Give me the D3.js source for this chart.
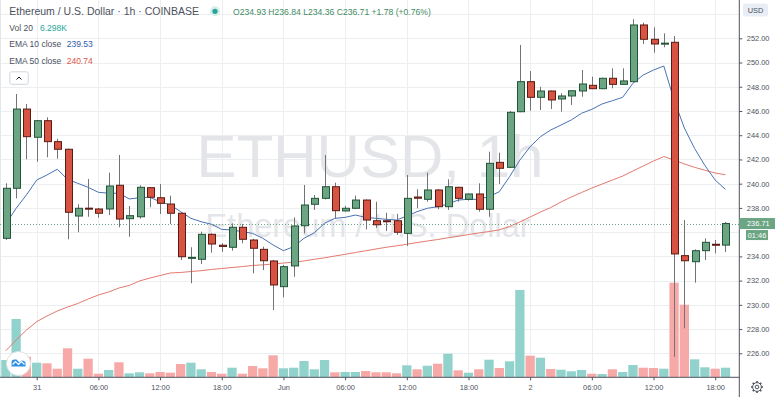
<!DOCTYPE html>
<html>
<head>
<meta charset="utf-8">
<script src="https://cdn.jsdelivr.net/npm/d3@7"></script>
<style>
  body { margin: 0; background: #fff; }
  svg { display: block; font-family: "Liberation Sans", Arial, sans-serif; }
</style>
</head>
<body>
<div id="chart"></div>
<script>
// hourly bars, index -3 = 30 May 21:00 ... 67 = 2 Jun 19:00
const firstBar = -3;
const opens  = [235.49,239.62,246.16,243.83,245.20,243.47,242.84,237.33,237.98,237.91,237.91,239.87,237.11,237.27,239.67,238.84,238.32,237.56,233.85,233.76,235.82,234.92,234.75,236.40,235.35,234.58,233.62,231.50,233.21,236.53,238.30,238.79,239.75,237.75,237.97,238.65,236.94,236.94,236.94,235.90,238.90,238.71,239.48,238.10,239.70,238.71,239.15,237.89,241.76,241.35,245.94,248.42,247.13,247.65,246.99,247.24,247.65,248.12,247.84,248.70,248.20,248.42,253.10,251.92,251.55,251.67,234.06,233.56,234.47,235.00,234.93];
const highs  = [240.03,247.40,246.58,245.25,245.48,243.71,242.90,238.30,240.39,238.00,240.91,242.37,238.16,239.87,239.72,239.97,239.01,237.60,234.75,236.04,235.90,235.08,236.73,236.67,235.45,234.80,233.70,233.29,237.22,239.89,239.07,242.37,240.08,238.16,239.01,238.70,238.51,237.60,237.51,240.72,239.54,240.91,239.55,240.36,239.75,239.20,240.03,242.64,242.56,246.00,251.45,249.30,248.00,247.70,247.46,247.70,249.38,248.83,248.75,249.52,249.52,253.57,253.29,252.91,252.41,252.19,237.00,234.58,235.49,235.35,236.84];
const lows   = [235.35,238.79,242.01,241.81,242.18,242.06,235.41,235.99,237.27,237.19,237.41,236.40,235.62,237.11,238.05,237.50,236.67,233.70,231.78,233.37,234.30,234.38,234.47,235.08,232.60,232.87,229.57,230.62,232.32,235.90,237.83,238.70,237.14,237.70,237.90,236.23,236.35,236.09,235.77,234.86,237.97,238.51,237.89,237.83,238.51,238.60,237.69,237.27,239.97,241.30,245.90,246.02,246.08,246.16,245.94,246.49,247.18,247.80,247.80,247.87,248.15,248.40,251.53,250.81,251.26,225.71,228.06,231.83,233.70,234.25,234.36];
const closes = [239.62,246.16,243.88,245.20,243.47,242.84,237.64,237.97,237.93,237.56,239.81,237.08,237.36,239.70,238.88,238.38,237.56,233.97,233.92,235.82,235.02,234.82,236.40,235.41,234.67,233.64,231.64,233.15,236.51,238.24,238.79,239.75,237.77,237.97,238.65,237.00,236.61,236.90,235.99,238.79,238.80,239.48,238.10,239.75,238.79,239.15,237.89,241.68,241.27,245.89,248.42,247.13,247.65,246.91,247.24,247.67,248.23,247.84,248.70,248.20,248.48,253.10,251.92,251.53,251.60,234.20,233.64,234.47,235.16,234.93,236.71];
const volumes = [11.35,38.25,13.5,9.58,9.18,5.64,19.0,5.64,12.2,2.36,4.79,9.84,2.62,3.28,2.62,3.48,3.02,8.72,9.58,5.25,3.48,2.36,6.30,2.36,7.41,5.9,14.43,5.9,6.3,10.69,5.25,11.35,3.28,3.48,3.48,4.13,3.28,3.28,2.62,7.87,5.25,7.61,8.92,15.48,4.59,3.02,5.25,11.55,6.1,10.5,57.27,14.17,12.86,5.44,4.99,3.94,4.79,2.36,2.16,5.25,3.48,8.07,6.3,6.1,5.64,62.06,47.63,11.81,6.56,5.64,6.298];
const ema10 = [236.67,237.97,239.07,240.30,240.72,241.19,240.36,240.03,239.70,239.29,239.21,239.21,238.74,238.84,238.88,238.51,238.24,237.69,237.14,236.86,236.65,236.23,236.18,236.04,235.90,235.49,234.94,234.47,234.80,235.49,235.95,236.73,237.14,237.22,237.41,237.22,237.14,237.06,237.00,237.33,237.69,237.97,238.10,238.32,238.65,238.71,238.71,238.93,239.34,240.58,241.95,243.05,243.88,244.43,244.84,245.26,245.81,246.14,246.58,246.85,247.13,248.29,248.97,249.38,249.71,246.90,244.60,242.90,241.50,240.30,239.53];
const ema50 = [226.21,227.10,227.92,228.61,229.08,229.49,229.82,230.11,230.48,230.81,231.06,231.39,231.60,231.97,232.21,232.42,232.63,232.67,232.75,232.82,232.92,233.00,233.08,233.16,233.25,233.30,233.37,233.45,233.52,233.62,233.76,233.88,234.03,234.17,234.32,234.46,234.61,234.75,234.87,235.00,235.14,235.27,235.39,235.53,235.66,235.80,235.93,236.05,236.19,236.47,236.84,237.25,237.66,238.03,238.49,238.90,239.27,239.64,239.97,240.30,240.63,241.05,241.46,241.87,242.24,241.95,241.63,241.35,241.11,240.88,240.74];

const priceTicks = [226,228,230,232,234,236,238,240,242,244,246,248,250,252,254];
// 236 and 254 labels sit under the last-price and USD badges
const priceLabels = [226,228,230,232,234,238,240,242,244,246,248,250,252];
const timeTickLabels = ["31","06:00","12:00","18:00","Jun","06:00","12:00","18:00","2","06:00","12:00","18:00"];
const lastPrice = 236.71;

const W = 775, H = 397;
const plotRight = 739.3, axisY = 377.3;
const upFill = "#6ba583", upLine = "#225437", dnFill = "#d75442", dnLine = "#5b1a13";
const textCol = "#4c525e";

const t0 = new Date(2020, 4, 31, 0, 0);
const bars = opens.map((o, k) => ({
  t: d3.timeHour.offset(t0, firstBar + k),
  o, h: highs[k], l: lows[k], c: closes[k], v: volumes[k],
  e10: ema10[k], e50: ema50[k]
}));

const x = d3.scaleTime()
  .domain([t0, d3.timeHour.offset(t0, 66)])
  .range([36.7, 715.2]);
const step = x(d3.timeHour.offset(t0, 1)) - x(t0);
const y = d3.scaleLinear().domain([226, 252]).range([353.3, 38.3]);
const yVol = d3.scaleLinear().domain([0, d3.max(volumes)]).range([axisY, 282.7]);

const svg = d3.select("#chart").append("svg").attr("width", W).attr("height", H);

svg.append("defs").append("clipPath").attr("id", "plot")
  .append("rect").attr("x", 0).attr("y", 0).attr("width", plotRight).attr("height", axisY);
const plot = svg.append("g").attr("clip-path", "url(#plot)");

// grid
const tickTimes = timeTickLabels.map((_, k) => d3.timeHour.offset(t0, k * 6));
plot.append("g").selectAll("line").data(priceTicks).join("line")
  .attr("x1", 0).attr("x2", plotRight)
  .attr("y1", d => Math.round(y(d)) + 0.5).attr("y2", d => Math.round(y(d)) + 0.5)
  .attr("stroke", "#eceff2");
plot.append("g").selectAll("line").data(tickTimes).join("line")
  .attr("x1", d => Math.round(x(d)) + 0.5).attr("x2", d => Math.round(x(d)) + 0.5)
  .attr("y1", 0).attr("y2", axisY)
  .attr("stroke", "#eceff2");
plot.append("line").attr("x1", 0.5).attr("x2", 0.5).attr("y1", 0).attr("y2", axisY)
  .attr("stroke", "#e3e6ea");

// watermark
plot.append("text").attr("x", 370).attr("y", 177).attr("text-anchor", "middle")
  .attr("font-size", 60).attr("fill", "#e4e5e8").text("ETHUSD, 1h");
plot.append("text").attr("x", 368).attr("y", 237).attr("text-anchor", "middle")
  .attr("font-size", 32.5).attr("fill", "#e4e5e8").text("Ethereum / U.S. Dollar");

// volume
const vw = step - 1;
plot.append("g").selectAll("rect").data(bars).join("rect")
  .attr("x", d => x(d.t) - vw / 2).attr("width", vw)
  .attr("y", d => yVol(d.v)).attr("height", d => axisY - yVol(d.v))
  .attr("fill", d => d.c >= d.o ? "#92d2cc" : "#f7a9a7");

// EMAs
const lineGen = key => d3.line().x(d => x(d.t)).y(d => y(d[key]));
plot.append("path").datum(bars).attr("d", lineGen("e50"))
  .attr("fill", "none").attr("stroke", "#e3796d").attr("stroke-width", 1);
plot.append("path").datum(bars).attr("d", lineGen("e10"))
  .attr("fill", "none").attr("stroke", "#4a72b4").attr("stroke-width", 1);

// last price dotted line
plot.append("line").attr("x1", 0).attr("x2", plotRight)
  .attr("y1", Math.round(y(lastPrice)) + 0.5).attr("y2", Math.round(y(lastPrice)) + 0.5)
  .attr("stroke", upFill).attr("stroke-dasharray", "1,2");

// candles
const cg = plot.append("g").selectAll("g").data(bars).join("g");
cg.append("line")
  .attr("x1", d => Math.round(x(d.t)) + 0.5).attr("x2", d => Math.round(x(d.t)) + 0.5)
  .attr("y1", d => y(d.h)).attr("y2", d => y(d.l))
  .attr("stroke", "#737375");
const bw = 7;
cg.append("rect")
  .attr("x", d => Math.round(x(d.t)) - bw / 2 + 1)
  .attr("width", bw)
  .attr("y", d => y(Math.max(d.o, d.c)))
  .attr("height", d => Math.max(1, Math.abs(y(d.o) - y(d.c))))
  .attr("fill", d => d.c >= d.o ? upFill : dnFill)
  .attr("stroke", d => d.c >= d.o ? upLine : dnLine)
  .attr("stroke-width", 1);

// bottom-left logo
const logo = svg.append("g").attr("transform", "translate(18.5,363.5)");
logo.append("circle").attr("r", 12).attr("fill", "#fff").attr("stroke", "#dde1e6");
logo.append("path")
  .attr("d", "M-7,3 L-7,-1 Q-7,-4 -4,-4 L-2,-4 L1,-1 L3,-3 Q7,-3 7,0 L7,3 Z")
  .attr("fill", "#2e8fe6");
logo.append("path").attr("d", "M-6,1 L-3,-2 L0,1 L3,-2 L6,1")
  .attr("fill", "none").attr("stroke", "#fff").attr("stroke-width", 1.2);

// axes frame
svg.append("line").attr("x1", plotRight).attr("x2", plotRight).attr("y1", 0).attr("y2", H)
  .attr("stroke", "#50535e");
svg.append("line").attr("x1", 0).attr("x2", plotRight).attr("y1", axisY).attr("y2", axisY)
  .attr("stroke", "#50535e");

// price axis
const yAxis = d3.axisRight(y).tickValues(priceLabels).tickSize(3).tickFormat(d3.format(".2f"));
const yAxisG = svg.append("g").attr("transform", `translate(${plotRight},0)`).call(yAxis);
yAxisG.select(".domain").remove();
yAxisG.selectAll("line").attr("stroke", textCol);
yAxisG.selectAll("text").attr("x", 7.5).attr("fill", textCol)
  .attr("font-size", 7.4).attr("font-family", "Liberation Sans, Arial, sans-serif");

// time axis
const xAxis = d3.axisBottom(x).tickValues(tickTimes).tickSize(3)
  .tickFormat((d, k) => timeTickLabels[k]);
const xAxisG = svg.append("g").attr("transform", `translate(0,${axisY})`).call(xAxis);
xAxisG.select(".domain").remove();
xAxisG.selectAll("line").attr("stroke", textCol);
xAxisG.selectAll("text").attr("y", 7).attr("fill", textCol)
  .attr("font-size", 7.4).attr("font-family", "Liberation Sans, Arial, sans-serif");

// USD badge
svg.append("rect").attr("x", 743).attr("y", 3.5).attr("width", 25).attr("height", 13)
  .attr("rx", 2).attr("fill", "#e9edf5");
svg.append("text").attr("x", 755.5).attr("y", 13).attr("text-anchor", "middle")
  .attr("font-size", 7.4).attr("fill", textCol).text("USD");

// last price label + countdown
svg.append("rect").attr("x", plotRight).attr("y", y(lastPrice) - 5.5).attr("width", W - plotRight)
  .attr("height", 11).attr("fill", upFill);
svg.append("text").attr("x", 747).attr("y", y(lastPrice) + 2.7).attr("font-size", 7.4)
  .attr("fill", "#fff").text(lastPrice.toFixed(2));
svg.append("rect").attr("x", 746).attr("y", y(lastPrice) + 6.5).attr("width", 22)
  .attr("height", 10).attr("fill", upFill);
svg.append("text").attr("x", 757).attr("y", y(lastPrice) + 14.2).attr("text-anchor", "middle")
  .attr("font-size", 7.4).attr("fill", "#fff").text("01:46");

// gear
const gear = svg.append("g").attr("transform", "translate(757,387)")
  .attr("stroke", textCol).attr("fill", "none");
gear.selectAll("line").data(d3.range(8)).join("line")
  .attr("x1", 0).attr("y1", -4.5).attr("x2", 0).attr("y2", -6)
  .attr("stroke-width", 1.6)
  .attr("transform", d => `rotate(${d * 45})`);
gear.append("circle").attr("r", 4.4).attr("stroke-width", 1);
gear.append("circle").attr("r", 1.8).attr("stroke-width", 1);

// header legend
const hdr = svg.append("g");
hdr.append("text").attr("x", 9.3).attr("y", 15).attr("font-size", 10.5).attr("fill", textCol)
  .text("Ethereum / U.S. Dollar · 1h · COINBASE");
hdr.append("circle").attr("cx", 215).attr("cy", 11.3).attr("r", 5).attr("fill", "#d6efe8");
hdr.append("circle").attr("cx", 215).attr("cy", 11.3).attr("r", 2.6).attr("fill", "#26a69a");
const last = bars[bars.length - 1];
hdr.append("text").attr("x", 233).attr("y", 15).attr("font-size", 8.6).attr("fill", "#3f8a63")
  .text(`O${last.o.toFixed(2)} H${last.h.toFixed(2)} L${last.l.toFixed(2)} C${last.c.toFixed(2)} +1.78 (+0.76%)`);

const legendRows = [
  { y: 30.7, label: "Vol 20", value: "6.298K", col: "#26a69a", vx: 40 },
  { y: 47.3, label: "EMA 10 close", value: ema10[ema10.length - 1].toFixed(2), col: "#2f5da8", vx: 66.7 },
  { y: 64, label: "EMA 50 close", value: ema50[ema50.length - 1].toFixed(2), col: "#e0564a", vx: 66.7 }
];
legendRows.forEach(r => {
  hdr.append("text").attr("x", 9.3).attr("y", r.y).attr("font-size", 8.5).attr("fill", textCol).text(r.label);
  hdr.append("text").attr("x", r.vx).attr("y", r.y).attr("font-size", 8.5).attr("fill", r.col).text(r.value);
});
hdr.append("rect").attr("x", 9.8).attr("y", 71.8).attr("width", 18.5).attr("height", 12.5)
  .attr("rx", 2).attr("fill", "#fff").attr("stroke", "#d1d4dc");
hdr.append("path").attr("d", "M16.5,79.5 L19,77 L21.5,79.5").attr("fill", "none")
  .attr("stroke", "#131722").attr("stroke-width", 1);
</script>
</body>
</html>
